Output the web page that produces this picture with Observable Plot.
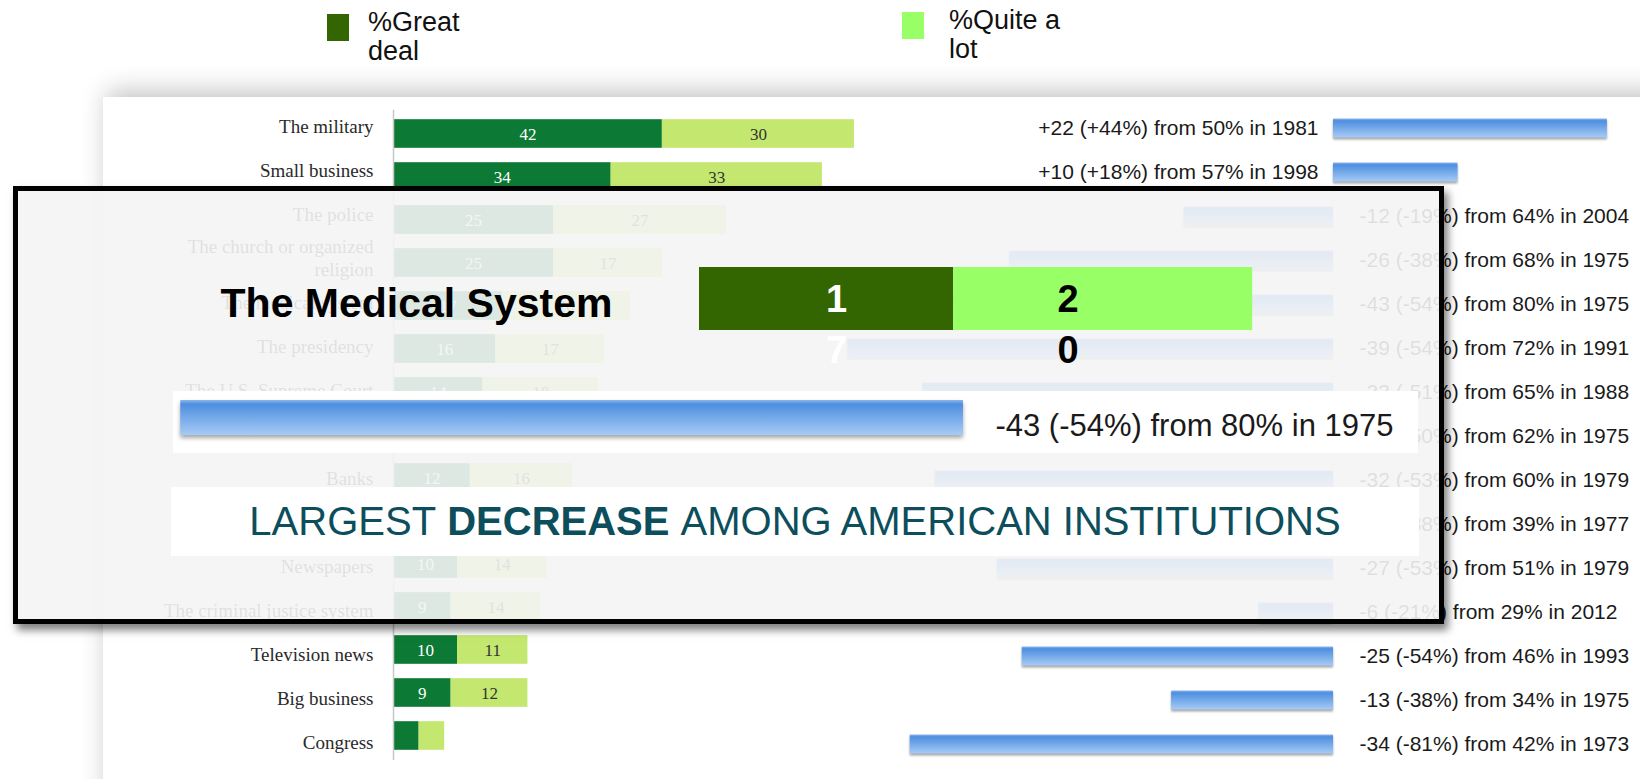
<!DOCTYPE html>
<html>
<head>
<meta charset="utf-8">
<script src="https://cdn.jsdelivr.net/npm/d3@7"></script>
<script src="https://cdn.jsdelivr.net/npm/@observablehq/plot@0.6"></script>
<style>
  html, body { margin: 0; padding: 0; background: #fff; }
  #root { position: relative; width: 1640px; height: 779px; overflow: hidden; font-family: Arial, "Liberation Sans", sans-serif; }
  .abs { position: absolute; }
  #frame { left: 103px; top: 97px; width: 1600px; height: 800px; background: #fff;
           box-shadow: -4px -14px 24px -8px rgba(0,0,0,0.24); }
  .sw { position: absolute; width: 22px; height: 27px; }
  .lg { position: absolute; font-size: 27px; line-height: 29px; color: #111; }
  #overlay { left: 13px; top: 186px; width: 1431px; height: 438px; box-sizing: border-box;
             border: 5px solid #000; background: rgba(244,244,245,0.9);
             box-shadow: 4px 6px 8px rgba(0,0,0,0.5); }
  #largest { left: 171px; top: 487px; width: 1248px; height: 69px; background: #fff;
             display: flex; align-items: center; justify-content: center;
             color: #0d4e5c; font-size: 40px; white-space: nowrap; }
  svg { overflow: visible; }
</style>
</head>
<body>
<div id="root">
  <div id="frame" class="abs"></div>
  <div class="sw" style="left:327px;top:14px;background:#336600"></div>
  <div class="lg" style="left:368px;top:8px">%Great<br>deal</div>
  <div class="sw" style="left:902px;top:12px;background:#99ff66"></div>
  <div class="lg" style="left:949px;top:6px">%Quite a<br>lot</div>
</div>
<script>
// ---------------- data ----------------
const institutions = ["The military", "Small business", "The police", "The church or organized religion",
  "The medical system", "The presidency", "The U.S. Supreme Court", "The public schools", "Banks",
  "Organized labor", "Newspapers", "The criminal justice system", "Television news", "Big business", "Congress"];
const greatDeal = [42, 34, 25, 25, 17, 16, 14, 14, 12, 11, 10, 9, 10, 9, 4];
const quiteALot = [30, 33, 27, 17, 20, 17, 18, 17, 16, 13, 14, 14, 11, 12, 4];
const change    = [22, 10, -12, -26, -43, -39, -33, -31, -32, -15, -27, -6, -25, -13, -34];
const pctChange = [44, 18, -19, -38, -54, -54, -51, -50, -53, -38, -53, -21, -54, -38, -81];
const baseline  = [50, 57, 64, 68, 80, 72, 65, 62, 60, 39, 51, 29, 46, 34, 42];
const baseYear  = [1981, 1998, 2004, 1975, 1975, 1991, 1988, 1975, 1979, 1977, 1979, 2012, 1993, 1975, 1973];
const seriesNames = ["%Great deal", "%Quite a lot"];
const rowLabels = {"The church or organized religion": "The church or organized\nreligion"};
const highlightIndex = 4;
const highlightTitle = "The Medical System";
const bannerText = ["LARGEST ", "DECREASE", " AMONG AMERICAN INSTITUTIONS"];

// ---------------- derived tables ----------------
const sgn = v => (v > 0 ? "+" : "") + v;
const rows = institutions.map((name, i) => ({
  name, change: change[i],
  label: `${sgn(change[i])} (${sgn(pctChange[i])}%) from ${baseline[i]}% in ${baseYear[i]}`
}));
const stacked = [];
institutions.forEach((name, i) => {
  stacked.push({name, series: seriesNames[0], value: greatDeal[i]});
  stacked.push({name, series: seriesNames[1], value: quiteALot[i]});
});

const root = document.getElementById("root");
function place(el, left, top) {
  const d = document.createElement("div");
  d.className = "abs";
  d.style.left = left + "px";
  d.style.top = top + "px";
  d.appendChild(el);
  root.appendChild(d);
  return d;
}
const serif = "Liberation Serif, Times New Roman, serif";
const sans = "Arial, Liberation Sans, sans-serif";
const tr = "background: transparent; overflow: visible;";

// ---------------- base chart: row labels ----------------
const labelsPlot = Plot.plot({
  width: 394, height: 779,
  marginLeft: 393, marginRight: 1, marginTop: 102.5, marginBottom: 15.9,
  style: tr,
  x: {domain: [0, 1], axis: null},
  y: {type: "band", domain: institutions, padding: 0, axis: null},
  marks: [
    Plot.axisY({tickSize: 0, tickPadding: 20, fontSize: 19, fontFamily: serif, fill: "#2a2a2a",
      lineHeight: 1.2, label: null, tickFormat: d => rowLabels[d] || d})
  ]
});
place(labelsPlot, 0, 0);

// ---------------- base chart: green stacked bars ----------------
const green = Plot.plot({
  width: 900, height: 779,
  marginLeft: 393, marginRight: 0, marginTop: 109.8, marginBottom: 18.9,
  style: tr,
  x: {domain: [0, 79.2], axis: null},
  y: {domain: institutions, padding: 0, axis: null},
  color: {domain: seriesNames, range: ["#0c7a34", "#c4e86f"]},
  marks: [
    Plot.barX(stacked, Plot.stackX({x: "value", y: "name", fill: "series", insetTop: 7.2, insetBottom: 7.2})),
    Plot.text(stacked, Plot.stackX({x: "value", y: "name",
      text: d => (d.series === seriesNames[0] && d.value >= 5) ? String(d.value) : null,
      fill: "#fff", fontFamily: serif, fontSize: 17, dy: 1})),
    Plot.text(stacked, Plot.stackX({x: "value", y: "name",
      text: d => (d.series === seriesNames[1] && d.value >= 5) ? String(d.value) : null,
      fill: "#333", fontFamily: serif, fontSize: 17, dy: 1})),
    Plot.ruleX([0], {stroke: "#c8c8c8", strokeWidth: 1.5})
  ]
});
place(green, 0, 0);

// ---------------- base chart: blue change bars ----------------
const blue = Plot.plot({
  width: 740, height: 779,
  marginLeft: 0, marginRight: 0, marginTop: 106, marginBottom: 12.4,
  style: tr,
  x: {domain: [-34.78, 24.66], axis: null},
  y: {domain: institutions, padding: 0, axis: null},
  marks: [
    Plot.barX(rows, {x: "change", y: "name", fill: "url(#blueGrad)", insetTop: 12.5, insetBottom: 12.5}),
    Plot.text(rows.filter(d => d.change < 0), {x: d => 0, y: "name", text: "label", textAnchor: "start",
      dx: 26, fontSize: 21, fontFamily: sans, fill: "#1a1a1a"}),
    Plot.text(rows.filter(d => d.change > 0), {x: d => 0, y: "name", text: "label", textAnchor: "end",
      dx: -15, fontSize: 21, fontFamily: sans, fill: "#1a1a1a"})
  ]
});
d3.select(blue).insert("defs", ":first-child").html(
  `<linearGradient id="blueGrad" x1="0" y1="0" x2="0" y2="1">
     <stop offset="0" stop-color="#8db6ea"/>
     <stop offset="0.12" stop-color="#4e8fe0"/>
     <stop offset="1" stop-color="#a6cbf6"/>
   </linearGradient>`);
d3.select(blue).selectAll('g[fill="url(#blueGrad)"]').style("filter", "drop-shadow(0px 2px 1px rgba(0,0,0,0.35))");
place(blue, 900, 0);

// ---------------- overlay box ----------------
const ov = document.createElement("div");
ov.id = "overlay"; ov.className = "abs";
root.appendChild(ov);

// overlay: title + enlarged stacked bar
const hl = [
  {name: highlightTitle, series: seriesNames[0], value: greatDeal[highlightIndex]},
  {name: highlightTitle, series: seriesNames[1], value: quiteALot[highlightIndex]}
];
const digit = (k, s) => d => d.series === s ? String(d.value)[k] : null;
const o1 = Plot.plot({
  width: 1640, height: 779,
  marginLeft: 699, marginRight: 0, marginTop: 267, marginBottom: 449,
  style: tr,
  x: {domain: [0, 62.94], axis: null},
  y: {domain: [highlightTitle], padding: 0, axis: null},
  color: {domain: seriesNames, range: ["#336600", "#99ff66"]},
  marks: [
    Plot.barX(hl, Plot.stackX({x: "value", y: "name", fill: "series"})),
    Plot.text(hl, Plot.stackX({x: "value", y: "name", text: digit(0, seriesNames[0]), dx: 10, dy: 1,
      fill: "#fff", fontSize: 38, fontWeight: "bold", fontFamily: sans})),
    Plot.text(hl, Plot.stackX({x: "value", y: "name", text: digit(1, seriesNames[0]), dx: 10, dy: 52,
      fill: "#fff", fontSize: 38, fontWeight: "bold", fontFamily: sans})),
    Plot.text(hl, Plot.stackX({x: "value", y: "name", text: digit(0, seriesNames[1]), dx: -35, dy: 1,
      fill: "#000", fontSize: 38, fontWeight: "bold", fontFamily: sans})),
    Plot.text(hl, Plot.stackX({x: "value", y: "name", text: digit(1, seriesNames[1]), dx: -35, dy: 52,
      fill: "#000", fontSize: 38, fontWeight: "bold", fontFamily: sans})),
    Plot.axisY({tickSize: 0, tickPadding: 87, fontSize: 41, fontWeight: "bold", fontFamily: sans,
      fill: "#000", label: null, dy: 5})
  ]
});
place(o1, 0, 0);

// overlay: enlarged blue change bar on white
const hlRow = [rows[highlightIndex]];
const o2 = Plot.plot({
  width: 1245, height: 62,
  marginLeft: 0, marginRight: 0, marginTop: 9, marginBottom: 18,
  style: "background: #fff; overflow: visible;",
  x: {domain: [-43.4, 25], axis: null},
  y: {domain: [hlRow[0].name], padding: 0, axis: null},
  marks: [
    Plot.barX(hlRow, {x: "change", y: "name", fill: "url(#blueGrad)"}),
    Plot.text(hlRow, {x: d => 0, y: "name", text: "label", textAnchor: "start", dx: 32, dy: 8,
      fontSize: 31, fontFamily: sans, fill: "#1a1a1a"})
  ]
});
d3.select(o2).selectAll('g[fill="url(#blueGrad)"]').style("filter", "drop-shadow(0px 3px 2px rgba(0,0,0,0.35))");
place(o2, 173, 391);

// overlay: banner
const banner = document.createElement("div");
banner.id = "largest"; banner.className = "abs";
banner.innerHTML = `${bannerText[0].replace(/ $/, "&nbsp;")}<b>${bannerText[1]}</b>${bannerText[2].replace(/^ /, "&nbsp;")}`;
root.appendChild(banner);
</script>
</body>
</html>
